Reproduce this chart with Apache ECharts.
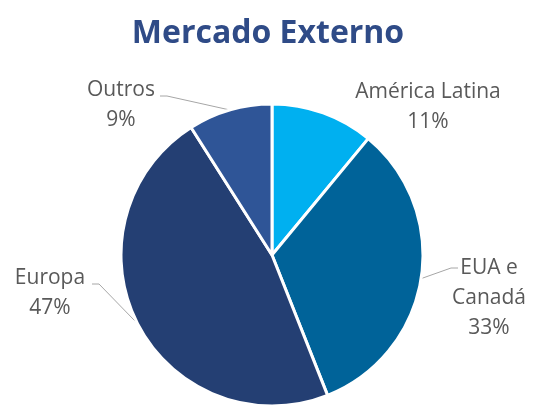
<!DOCTYPE html>
<html>
<head>
<meta charset="utf-8">
<script src="https://cdn.jsdelivr.net/npm/echarts@6/dist/echarts.min.js"></script>
<style>
  html, body { margin: 0; padding: 0; background: #fff; }
  #chart { width: 536px; height: 405px; }
</style>
</head>
<body>
<div id="chart"></div>
<script>
// data
var categories = ['América Latina', 'EUA e Canadá', 'Europa', 'Outros'];
var labelNames = ['América Latina', 'EUA e\nCanadá', 'Europa', 'Outros'];
var shares = [11, 33, 47, 9];
var colors = ['#00B0F0', '#006399', '#243F73', '#2F5597'];

// where each label block sits (centre of text), and where its leader line meets the text
var labelSpots = [[428, 107], [489, 298], [50, 293], [121, 105]];
var lineEnds = [null, [458, 268], [92, 284], [160, 96]];

var pieCenter = [272, 255];
var pieRadius = 151;

var mychart = echarts.init(document.getElementById('chart'));

var total = shares.reduce(function (a, b) { return a + b; }, 0);

// point on the rim at the middle of slice i (clockwise from 12 o'clock)
function rimPoint(i) {
    var before = 0;
    for (var k = 0; k < i; k++) before += shares[k];
    var a = (before + shares[i] / 2) / total * Math.PI * 2;
    return [pieCenter[0] + pieRadius * Math.sin(a), pieCenter[1] - pieRadius * Math.cos(a)];
}

var pieData = categories.map(function (c, i) {
    var d = { name: c, value: shares[i], itemStyle: { color: colors[i] } };
    if (i === 0) d.labelLine = { show: false };
    return d;
});

var option = {
    animation: false,
    title: {
        text: 'Mercado Externo',
        left: 'center',
        top: 13,
        textStyle: {
            fontFamily: 'Open Sans',
            fontSize: 32,
            fontWeight: 'bold',
            color: '#2F4B87'
        }
    },
    series: [{
        type: 'pie',
        center: pieCenter,
        radius: pieRadius,
        startAngle: 90,
        clockwise: true,
        percentPrecision: 0,
        itemStyle: { borderColor: '#fff', borderWidth: 3 },
        label: {
            show: true,
            position: 'outside',
            fontFamily: 'Open Sans',
            fontSize: 21,
            lineHeight: 30,
            color: '#595959',
            align: 'center',
            formatter: function (p) {
                return labelNames[p.dataIndex] + '\n' + p.percent + '%';
            }
        },
        labelLine: {
            show: true,
            length: 10,
            length2: 10,
            lineStyle: { color: '#A6A6A6', width: 1 }
        },
        labelLayout: function (p) {
            var i = p.dataIndex;
            var s = labelSpots[i];
            var res = { x: s[0], y: s[1], align: 'center', verticalAlign: 'middle' };
            if (lineEnds[i]) {
                var rim = rimPoint(i);
                var end = lineEnds[i];
                var dir = end[0] > rim[0] ? -1 : 1;
                res.labelLinePoints = [rim, [end[0] + dir * 7, end[1]], end];
            }
            return res;
        },
        data: pieData
    }]
};

mychart.setOption(option);
</script>
</body>
</html>
